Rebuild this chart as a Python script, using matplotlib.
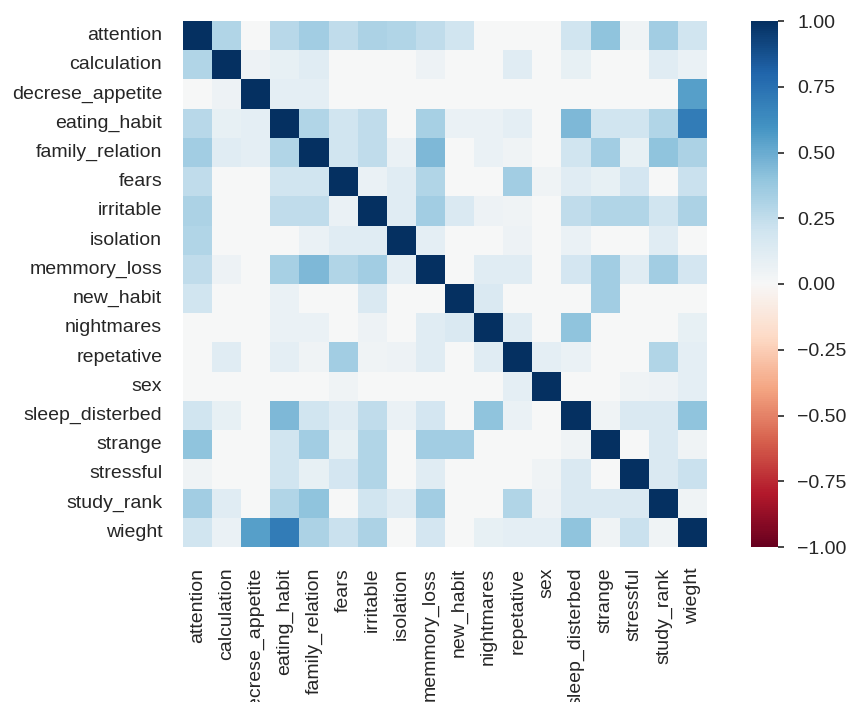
import matplotlib
matplotlib.use("Agg")
import matplotlib.pyplot as plt
import numpy as np
import seaborn as sns

plt.rcParams['font.family'] = ['Liberation Sans', 'DejaVu Sans']

features = ["attention", "calculation", "decrese_appetite", "eating_habit",
            "family_relation", "fears", "irritable", "isolation",
            "memmory_loss", "new_habit", "nightmares", "repetative", "sex",
            "sleep_disterbed", "strange", "stressful", "study_rank", "wieght"]

# correlation matrix, one row per feature
corr_rows = [
    [1.00, .30, .00, .28, .35, .25, .32, .30, .25, .20, .00, .00, .00, .20, .40, .04, .35, .20],
    [.30, 1.00, .05, .08, .12, .00, .00, .00, .05, .00, .00, .12, .00, .08, .00, .00, .12, .07],
    [.00, .05, 1.00, .10, .10, .00, .00, .00, .00, .00, .00, .00, .00, .00, .00, .00, .00, .55],
    [.28, .08, .10, 1.00, .30, .20, .25, .00, .33, .07, .07, .10, .00, .45, .20, .20, .30, .70],
    [.35, .12, .10, .30, 1.00, .20, .25, .07, .45, .00, .07, .04, .00, .20, .35, .08, .40, .32],
    [.25, .00, .00, .20, .20, 1.00, .07, .12, .30, .00, .00, .35, .04, .12, .08, .18, .00, .22],
    [.32, .00, .00, .25, .25, .07, 1.00, .12, .35, .15, .05, .04, .00, .25, .30, .30, .20, .32],
    [.30, .00, .00, .00, .07, .12, .12, 1.00, .10, .00, .00, .05, .00, .07, .00, .00, .12, .00],
    [.25, .05, .00, .33, .45, .30, .35, .10, 1.00, .00, .12, .12, .00, .18, .35, .12, .35, .18],
    [.20, .00, .00, .07, .00, .00, .15, .00, .00, 1.00, .15, .00, .00, .00, .35, .00, .00, .00],
    [.00, .00, .00, .07, .07, .00, .05, .00, .12, .15, 1.00, .12, .00, .40, .00, .00, .00, .08],
    [.00, .12, .00, .10, .04, .35, .04, .05, .12, .00, .12, 1.00, .10, .07, .00, .00, .30, .10],
    [.00, .00, .00, .00, .00, .04, .00, .00, .00, .00, .00, .10, 1.00, .00, .00, .04, .05, .10],
    [.20, .08, .00, .45, .20, .12, .25, .07, .18, .00, .40, .07, .00, 1.00, .04, .15, .15, .40],
    [.40, .00, .00, .20, .35, .08, .30, .00, .35, .35, .00, .00, .00, .04, 1.00, .00, .15, .04],
    [.04, .00, .00, .20, .08, .18, .30, .00, .12, .00, .00, .00, .04, .15, .00, 1.00, .15, .22],
    [.35, .12, .00, .30, .40, .00, .20, .12, .35, .00, .00, .30, .05, .15, .15, .15, 1.00, .04],
    [.20, .07, .55, .70, .32, .22, .32, .00, .18, .00, .08, .10, .10, .40, .04, .22, .04, 1.00],
]

cbar_ticks = [-1.00, -0.75, -0.50, -0.25, 0.00, 0.25, 0.50, 0.75, 1.00]

corr = np.array(corr_rows)

W, H = 849, 702
fig = plt.figure(figsize=(W / 100, H / 100), dpi=100)
ax = fig.add_axes([183 / W, 1 - 547 / H, 524 / W, 526 / H])
cax = fig.add_axes([751 / W, 1 - 547 / H, 27 / W, 526 / H])

sns.heatmap(corr, ax=ax, cbar_ax=cax, cmap="RdBu", vmin=-1, vmax=1,
            xticklabels=features, yticklabels=features)

text_color = "#262626"
ax.tick_params(axis="both", length=0, pad=15, labelsize=14, colors=text_color)
ax.set_yticklabels(features, rotation=0)
ax.set_xticklabels(features, rotation=90)

cax.set_yticks(cbar_ticks)
cax.set_yticklabels([f"{t:.2f}".replace("-", "\u2212") for t in cbar_ticks])
cax.tick_params(axis="y", length=4, width=1.2, pad=10, labelsize=14,
                colors=text_color)
for s in cax.spines.values():
    s.set_visible(False)

fig.savefig("out.png", dpi=100)
